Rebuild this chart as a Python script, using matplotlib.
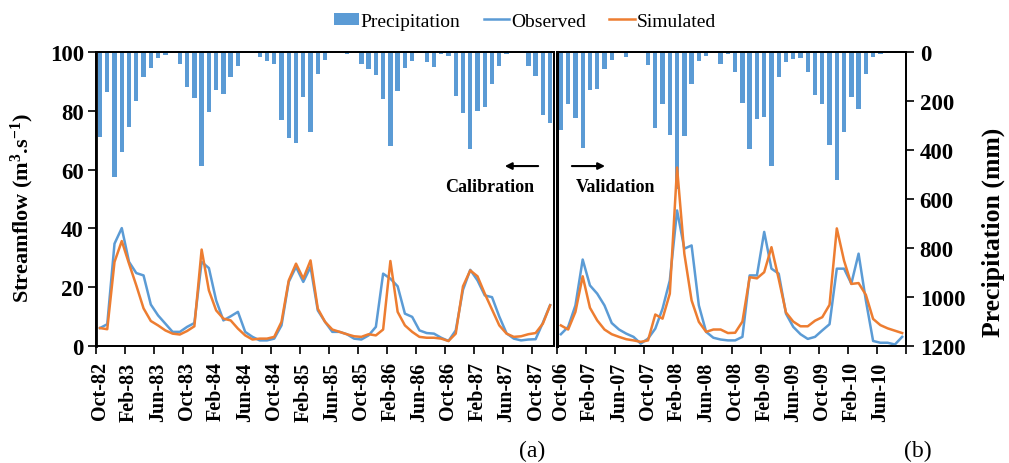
import numpy as np
import matplotlib
matplotlib.use("Agg")
import matplotlib.pyplot as plt
from matplotlib.patches import Patch
from matplotlib.lines import Line2D

plt.rcParams['font.family'] = ['Liberation Serif', 'DejaVu Serif']
plt.rcParams['mathtext.default'] = 'regular'

BLUE = '#5B9BD5'
ORANGE = '#ED7D31'

# calibration period, monthly Oct-82 .. Dec-87
cal_labels = ["Oct-82", "Feb-83", "Jun-83", "Oct-83", "Feb-84", "Jun-84", "Oct-84", "Feb-85",
              "Jun-85", "Oct-85", "Feb-86", "Jun-86", "Oct-86", "Feb-87", "Jun-87", "Oct-87"]
cal_precip = [349, 163, 512, 410, 308, 201, 102, 66, 23, 14, 2, 47, 141, 187, 467, 244,
              155, 172, 104, 57, 2, 3, 20, 37, 51, 276, 350, 370, 182, 327, 91, 31,
              2, 1, 7, 2, 48, 71, 95, 193, 385, 159, 64, 37, 4, 41, 61, 7,
              18, 180, 249, 395, 241, 224, 132, 59, 7, 2, 2, 59, 98, 256, 290]
cal_obs = [6.1, 7.4, 34.8, 40.1, 28.6, 24.8, 24.0, 14.1, 10.4, 7.6, 4.8, 4.8, 6.5, 7.8, 28.6, 26.5,
           15.5, 8.7, 10.1, 11.6, 4.8, 3.1, 1.9, 1.9, 2.5, 7.0, 21.8, 26.9, 21.8, 26.9, 12.1, 8.2,
           4.8, 4.8, 4.0, 2.5, 2.2, 3.6, 6.5, 24.6, 22.9, 20.3, 11.0, 9.9, 5.3, 4.4, 4.2, 2.8,
           1.7, 5.3, 19.1, 25.9, 22.3, 17.2, 16.6, 10.0, 4.3, 2.5, 1.9, 2.2, 2.3, 7.9, 13.9]
cal_sim = [6.1, 5.7, 28.6, 35.7, 28.0, 20.6, 12.8, 8.5, 7.0, 5.3, 4.2, 3.9, 5.1, 6.7, 32.8, 18.9,
           12.1, 9.3, 8.7, 5.9, 3.6, 2.2, 2.5, 2.5, 3.1, 8.2, 22.3, 28.0, 22.9, 29.1, 12.7, 8.2,
           5.6, 4.8, 4.0, 3.3, 3.1, 4.0, 3.6, 5.6, 28.9, 11.6, 7.0, 4.8, 3.1, 2.8, 2.8, 2.5,
           1.7, 4.2, 20.3, 25.7, 23.7, 17.8, 12.4, 7.0, 4.2, 3.1, 3.3, 4.0, 4.4, 7.6, 13.8]

# validation period, monthly Oct-06 .. Sep-10
val_labels = ["Oct-06", "Feb-07", "Jun-07", "Oct-07", "Feb-08", "Jun-08",
              "Oct-08", "Feb-09", "Jun-09", "Oct-09", "Feb-10", "Jun-10"]
val_precip = [320, 214, 269, 392, 156, 150, 68, 34, 3, 20, 2, 1, 54, 310, 212, 340,
              560, 343, 129, 37, 18, 2, 48, 10, 82, 208, 395, 275, 265, 465, 102, 41,
              30, 23, 82, 174, 214, 381, 521, 327, 184, 231, 88, 20, 7, 5, 4, 2]
val_obs = [4.0, 6.5, 13.8, 29.4, 20.6, 17.8, 13.8, 7.8, 5.6, 4.2, 3.1, 0.8, 2.5, 5.9, 12.7, 22.3,
           46.1, 33.1, 34.2, 13.8, 4.8, 2.8, 2.2, 1.9, 1.9, 3.1, 24.0, 24.0, 38.8, 26.3, 24.6, 11.0,
           6.5, 4.0, 2.4, 3.1, 5.3, 7.4, 26.3, 26.3, 21.2, 31.4, 15.5, 1.7, 1.1, 1.1, 0.5, 3.1]
val_sim = [7.0, 5.6, 11.6, 23.7, 13.0, 8.7, 5.6, 4.0, 3.1, 2.3, 1.9, 1.4, 1.9, 10.7, 9.3, 17.8,
           60.7, 31.4, 15.5, 8.2, 4.8, 5.6, 5.6, 4.4, 4.5, 8.3, 23.4, 23.0, 25.1, 33.6, 22.8, 11.4,
           8.3, 6.7, 6.7, 8.6, 9.8, 14.0, 40.0, 29.0, 21.1, 21.4, 17.4, 9.2, 7.1, 6.0, 5.2, 4.4]

fig = plt.figure(figsize=(10.09, 4.64), dpi=100)
ax_cal = fig.add_axes([0.0955, 0.2522, 0.4533, 0.6336])
ax_val = fig.add_axes([0.5523, 0.2522, 0.3454, 0.6336])

xtick_font = dict(fontsize=14.5, fontweight='bold')
ytick_font = dict(fontsize=16.5, fontweight='bold')
LW = 1.8


def draw_panel(ax, precip, obs, sim, labels):
    n = len(obs)
    x = np.arange(n)
    axp = ax.twinx()
    axp.bar(x, precip, width=0.6, color=BLUE)
    axp.set_ylim(1200, 0)
    ax.plot(x, obs, color=BLUE, lw=LW)
    ax.plot(x, sim, color=ORANGE, lw=LW)
    ax.set_ylim(0, 100)
    ax.set_xlim(-0.5, n - 0.5)
    # lines on top of bars
    ax.set_zorder(axp.get_zorder() + 1)
    ax.patch.set_visible(False)

    ax.set_xticks(np.arange(-0.5, n, 4))
    ax.set_xticklabels([])
    ax.set_xticks(np.arange(0, n, 4), minor=True)
    ax.set_xticklabels(labels, minor=True, rotation=90, **xtick_font)
    ax.tick_params(axis='x', which='major', direction='out', length=6, width=1.2)
    ax.tick_params(axis='x', which='minor', length=0, pad=11)
    for a in (ax, axp):
        for s in a.spines.values():
            s.set_linewidth(1.3)
            s.set_color('black')
    return axp


axp_cal = draw_panel(ax_cal, cal_precip, cal_obs, cal_sim, cal_labels)
axp_val = draw_panel(ax_val, val_precip, val_obs, val_sim, val_labels)

ax_cal.set_yticks(np.arange(0, 101, 20))
ax_cal.set_yticklabels([str(v) for v in range(0, 101, 20)], **ytick_font)
ax_cal.tick_params(axis='y', direction='out', length=6, width=1.2, pad=3)
ax_cal.spines['left'].set_linewidth(2.0)
axp_cal.set_yticks([])
ax_val.set_yticks([])
ax_val.spines['left'].set_linewidth(2.2)
axp_val.set_yticks(np.arange(0, 1201, 200))
axp_val.set_yticklabels([str(v) for v in range(0, 1201, 200)], **ytick_font)
axp_val.tick_params(axis='y', direction='out', length=6, width=1.2, pad=4)

fig.text(0.022, 0.552, 'Streamflow (m$^{3}$.s$^{-1}$)', rotation=90, ha='center', va='center',
         fontsize=16, fontweight='bold')
fig.text(0.984, 0.50, 'Precipitation (mm)', rotation=90, ha='center', va='center',
         fontsize=18.5, fontweight='bold')

# period annotations
ax_cal.annotate('', xy=(0.887, 0.612), xytext=(0.972, 0.612), xycoords='axes fraction',
                arrowprops=dict(arrowstyle='-|>', color='black', lw=1.5, mutation_scale=10))
ax_cal.text(0.859, 0.541, 'Calibration', transform=ax_cal.transAxes, ha='center', va='center',
            fontsize=13, fontweight='bold')
ax_val.annotate('', xy=(0.145, 0.612), xytext=(0.034, 0.612), xycoords='axes fraction',
                arrowprops=dict(arrowstyle='-|>', color='black', lw=1.5, mutation_scale=10))
ax_val.text(0.167, 0.541, 'Validation', transform=ax_val.transAxes, ha='center', va='center',
            fontsize=13, fontweight='bold')

fig.text(0.527, 0.026, '(a)', ha='center', va='center', fontsize=17)
fig.text(0.91, 0.026, '(b)', ha='center', va='center', fontsize=17)

handles = [Patch(facecolor=BLUE, edgecolor='none'),
           Line2D([], [], color=BLUE, lw=LW),
           Line2D([], [], color=ORANGE, lw=LW)]
fig.legend(handles, ['Precipitation', 'Observed', 'Simulated'], loc='center',
           bbox_to_anchor=(0.52, 0.952), ncol=3, frameon=False, fontsize=14,
           handlelength=1.3, handleheight=0.55, handletextpad=0.1, columnspacing=1.2)

fig.savefig('out.png', dpi=100)
